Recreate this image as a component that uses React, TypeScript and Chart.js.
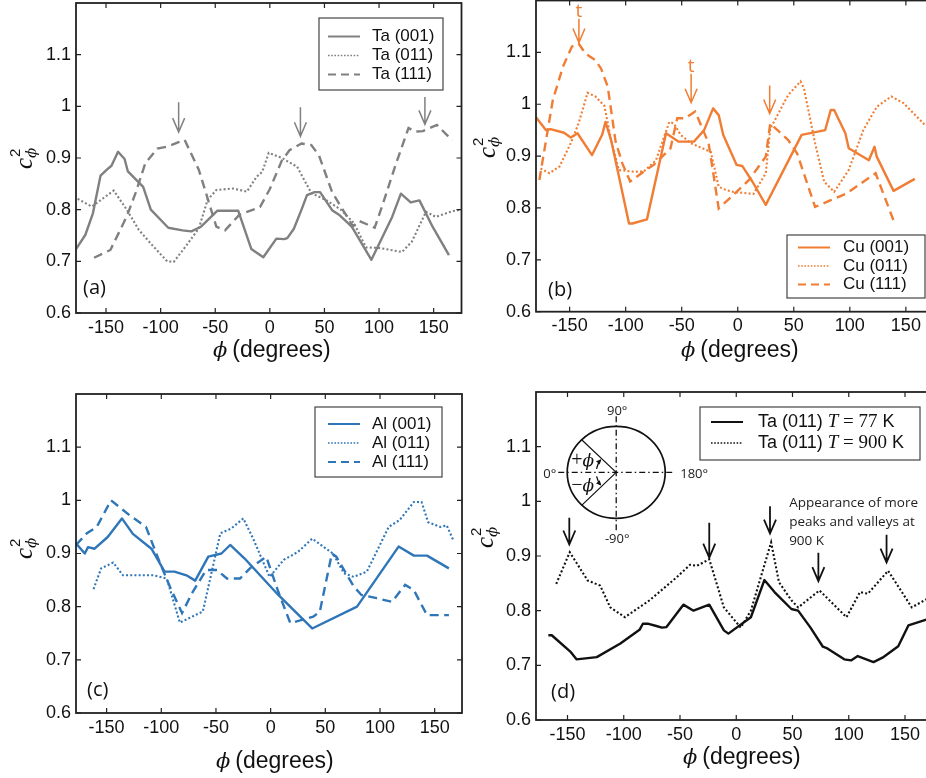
import React, { useEffect, useRef } from 'react';
import { Chart, registerables } from 'chart.js';

Chart.register(...registerables);

type P = [number, number];

const xTickValues = [-150, -100, -50, 0, 50, 100, 150];
const yTickValues = [0.6, 0.7, 0.8, 0.9, 1.0, 1.1];

// ---------- (a) Ta ----------
const ta001: P[] = [
  [-178, 0.722], [-169, 0.751], [-162, 0.793], [-155, 0.866], [-149, 0.878], [-145, 0.885], [-139, 0.912],
  [-133, 0.898], [-130, 0.874], [-116, 0.844], [-109, 0.8], [-93, 0.765], [-80, 0.76], [-72, 0.758],
  [-63, 0.767], [-48, 0.798], [-29, 0.798], [-17, 0.724], [-6, 0.708], [6, 0.744], [13, 0.743],
  [16, 0.745], [22, 0.763], [29, 0.8], [34, 0.828], [41, 0.834], [46, 0.834], [57, 0.799], [64, 0.789],
  [75, 0.767], [93, 0.703], [112, 0.786], [120, 0.831], [129, 0.814], [137, 0.818], [149, 0.767], [164, 0.712],
];
const ta011: P[] = [
  [-176, 0.821], [-163, 0.806], [-143, 0.837], [-131, 0.8], [-120, 0.761], [-108, 0.732], [-94, 0.7],
  [-88, 0.699], [-77, 0.729], [-65, 0.764], [-57, 0.819], [-49, 0.838], [-34, 0.841], [-21, 0.835],
  [-12, 0.864], [-7, 0.873], [-1, 0.91], [11, 0.9], [25, 0.883], [38, 0.832], [52, 0.818], [65, 0.8],
  [77, 0.774], [88, 0.727], [100, 0.726], [121, 0.718], [130, 0.738], [143, 0.796], [152, 0.786],
  [167, 0.797], [175, 0.8],
];
const ta111: P[] = [
  [-161, 0.707], [-146, 0.722], [-131, 0.787], [-123, 0.832], [-114, 0.89], [-103, 0.918], [-94, 0.922],
  [-83, 0.931], [-78, 0.935], [-65, 0.877], [-49, 0.767], [-41, 0.76], [-28, 0.79], [-9, 0.805], [0, 0.84],
  [11, 0.895], [18, 0.915], [29, 0.928], [38, 0.925], [45, 0.905], [57, 0.834], [76, 0.768], [82, 0.778],
  [96, 0.765], [103, 0.808], [115, 0.886], [127, 0.958], [133, 0.951], [140, 0.952], [153, 0.964], [167, 0.934],
];

// ---------- (b) Cu ----------
const cu001: P[] = [
  [-180, 0.975], [-171, 0.95], [-167, 0.952], [-155, 0.945], [-149, 0.936], [-143, 0.944], [-130, 0.902],
  [-121, 0.941], [-118, 0.966], [-113, 0.931], [-97, 0.77], [-94, 0.77], [-81, 0.778], [-64, 0.944],
  [-53, 0.928], [-39, 0.928], [-30, 0.95], [-22, 0.992], [-17, 0.979], [-13, 0.941], [-1, 0.883], [4, 0.881],
  [13, 0.851], [25, 0.806], [57, 0.941], [78, 0.95], [83, 0.989], [86, 0.989], [96, 0.944], [99, 0.915],
  [117, 0.892], [122, 0.918], [124, 0.899], [139, 0.833], [158, 0.856],
];
const cu011: P[] = [
  [-176, 0.876], [-168, 0.867], [-159, 0.88], [-149, 0.925], [-142, 0.963], [-134, 1.022], [-127, 1.015],
  [-119, 0.997], [-113, 0.931], [-106, 0.873], [-93, 0.87], [-84, 0.87], [-73, 0.892], [-61, 0.966],
  [-57, 0.963], [-51, 0.941], [-42, 0.925], [-24, 0.908], [-17, 0.841], [-11, 0.835], [-4, 0.831], [14, 0.827],
  [25, 0.867], [29, 0.953], [34, 0.973], [45, 1.018], [56, 1.044], [59, 1.031], [69, 0.925], [77, 0.851],
  [86, 0.831], [99, 0.873], [112, 0.95], [124, 0.995], [137, 1.015], [148, 1.002], [167, 0.96],
];
const cu111: P[] = [
  [-177, 0.854], [-165, 1.008], [-156, 1.072], [-148, 1.111], [-142, 1.117], [-136, 1.098], [-127, 1.085],
  [-122, 1.069], [-116, 1.034], [-109, 0.928], [-103, 0.886], [-96, 0.851], [-84, 0.87], [-75, 0.883],
  [-60, 0.915], [-54, 0.973], [-47, 0.973], [-38, 0.986], [-26, 0.925], [-17, 0.799], [-4, 0.825], [10, 0.854],
  [25, 0.899], [29, 0.963], [40, 0.941], [45, 0.931], [53, 0.905], [69, 0.802], [83, 0.815], [97, 0.828],
  [123, 0.867], [140, 0.77],
];

// ---------- (c) Al ----------
const al001: P[] = [
  [-178, 0.919], [-170, 0.9], [-167, 0.912], [-161, 0.909], [-149, 0.931], [-136, 0.966], [-126, 0.937],
  [-109, 0.909], [-97, 0.866], [-88, 0.866], [-77, 0.859], [-69, 0.849], [-57, 0.894], [-45, 0.9],
  [-37, 0.916], [-24, 0.891], [7, 0.822], [38, 0.759], [79, 0.8], [117, 0.913], [131, 0.896], [143, 0.896],
  [163, 0.872],
];
const al011: P[] = [
  [-162, 0.833], [-155, 0.872], [-144, 0.883], [-135, 0.859], [-123, 0.859], [-107, 0.859], [-95, 0.853],
  [-83, 0.77], [-62, 0.791], [-46, 0.938], [-36, 0.947], [-25, 0.966], [-16, 0.928], [-1, 0.856], [12, 0.888],
  [25, 0.903], [38, 0.928], [48, 0.913], [57, 0.9], [67, 0.863], [76, 0.856], [88, 0.866], [108, 0.95],
  [118, 0.963], [131, 0.997], [138, 0.997], [144, 0.959], [155, 0.95], [161, 0.953], [167, 0.925],
];
const al111: P[] = [
  [-178, 0.916], [-168, 0.938], [-159, 0.95], [-146, 1.0], [-129, 0.972], [-114, 0.95], [-101, 0.881],
  [-92, 0.837], [-81, 0.788], [-72, 0.825], [-59, 0.869], [-49, 0.869], [-40, 0.853], [-28, 0.853],
  [-19, 0.872], [-4, 0.894], [7, 0.828], [18, 0.769], [39, 0.781], [45, 0.791], [56, 0.9], [60, 0.894],
  [76, 0.838], [83, 0.822], [97, 0.816], [111, 0.809], [123, 0.841], [131, 0.831], [143, 0.784], [163, 0.784],
];

// ---------- (d) Ta (011) at two temperatures ----------
const ta77: P[] = [
  [-167, 0.755], [-164, 0.755], [-147, 0.724], [-142, 0.711], [-124, 0.715], [-103, 0.74], [-86, 0.765],
  [-83, 0.776], [-78, 0.776], [-71, 0.772], [-66, 0.769], [-62, 0.77], [-47, 0.811], [-38, 0.8], [-24, 0.811],
  [-11, 0.764], [-7, 0.758], [13, 0.788], [25, 0.856], [34, 0.834], [49, 0.803], [55, 0.8], [66, 0.769],
  [77, 0.734], [81, 0.731], [96, 0.711], [102, 0.709], [108, 0.717], [122, 0.706], [130, 0.714], [144, 0.735],
  [153, 0.773], [171, 0.785],
];
const ta900: P[] = [
  [-160, 0.849], [-148, 0.907], [-132, 0.855], [-121, 0.846], [-112, 0.806], [-99, 0.788], [-77, 0.819],
  [-53, 0.861], [-41, 0.884], [-35, 0.882], [-24, 0.894], [-11, 0.806], [4, 0.769], [13, 0.8], [31, 0.925],
  [38, 0.852], [49, 0.819], [55, 0.806], [74, 0.837], [98, 0.788], [110, 0.834], [117, 0.831], [135, 0.873],
  [156, 0.806], [170, 0.822],
];

const noteLines = ['Appearance of more', 'peaks and valleys at', '900 K'];

const GRAY = '#808080';
const ORANGE = '#f07d33';
const BLUE = '#2f76b8';
const BLACK = '#111111';

const SANS = '"Liberation Sans", Arial, Helvetica, sans-serif';
const SERIF = '"Liberation Serif", "Times New Roman", serif';
const PHI_FONT = '"DejaVu Serif", "Liberation Serif", serif';

type Seg = { t: string; f: string };
type Style = 'solid' | 'dotted' | 'dashed';
interface SeriesDef { label: string; rich: Seg[]; data: P[]; style: Style }
interface ArrowDef { x: number; top: number; tip: number; text?: string }
interface PanelDef {
  key: string;
  box: [number, number, number, number];
  area: [number, number, number, number];
  xRange: [number, number];
  color: string;
  series: SeriesDef[];
  legend: { x: number; y: number; w: number; h: number; l0: number; l1: number; tx: number; rows: number[] };
  tag: { text: string; x: number; y: number };
  xTitle: [number, number];
  yTitle: [number, number];
  arrows: ArrowDef[];
  arrowWidth: number;
  note?: { x: number; ys: number[] };
  inset?: { x: number; y: number };
}

const plain = (t: string): Seg[] => [{ t, f: `17px ${SANS}` }];

const panels: PanelDef[] = [
  {
    key: 'a', box: [0, 0, 463, 385], area: [76, 3, 461.5, 313], xRange: [-177.5, 175.5], color: GRAY,
    series: [
      { label: 'Ta (001)', rich: plain('Ta (001)'), data: ta001, style: 'solid' },
      { label: 'Ta (011)', rich: plain('Ta (011)'), data: ta011, style: 'dotted' },
      { label: 'Ta (111)', rich: plain('Ta (111)'), data: ta111, style: 'dashed' },
    ],
    legend: { x: 319, y: 18, w: 124, h: 72, l0: 328, l1: 360, tx: 372, rows: [36.5, 55.5, 74.5] },
    tag: { text: '(a)', x: 83, y: 288 },
    xTitle: [213, 357], yTitle: [32, 169],
    arrows: [
      { x: -83.5, top: 1.008, tip: 0.95 },
      { x: 28, top: 0.998, tip: 0.942 },
      { x: 142, top: 1.018, tip: 0.965 },
    ],
    arrowWidth: 1.5,
  },
  {
    key: 'b', box: [463, 0, 490, 385], area: [536, 0.5, 939.5, 311.7], xRange: [-180, 180], color: ORANGE,
    series: [
      { label: 'Cu (001)', rich: plain('Cu (001)'), data: cu001, style: 'solid' },
      { label: 'Cu (011)', rich: plain('Cu (011)'), data: cu011, style: 'dotted' },
      { label: 'Cu (111)', rich: plain('Cu (111)'), data: cu111, style: 'dashed' },
    ],
    legend: { x: 787, y: 235, w: 138, h: 63, l0: 798, l1: 830, tx: 843, rows: [247.5, 266, 284.5] },
    tag: { text: '(b)', x: 548, y: 290 },
    xTitle: [681, 357], yTitle: [495, 158],
    arrows: [
      { x: -141.7, top: 1.165, tip: 1.119, text: 't' },
      { x: -41.6, top: 1.059, tip: 1.003, text: 't' },
      { x: 28.5, top: 1.036, tip: 0.982 },
    ],
    arrowWidth: 1.5,
  },
  {
    key: 'c', box: [0, 385, 463, 393], area: [76, 394, 462, 713], xRange: [-178, 175], color: BLUE,
    series: [
      { label: 'Al (001)', rich: plain('Al (001)'), data: al001, style: 'solid' },
      { label: 'Al (011)', rich: plain('Al (011)'), data: al011, style: 'dotted' },
      { label: 'Al (111)', rich: plain('Al (111)'), data: al111, style: 'dashed' },
    ],
    legend: { x: 315, y: 407, w: 127, h: 70, l0: 328, l1: 360, tx: 372, rows: [424, 443, 462] },
    tag: { text: '(c)', x: 87, y: 690 },
    xTitle: [216, 768], yTitle: [32, 559],
    arrows: [],
    arrowWidth: 1.5,
  },
  {
    key: 'd', box: [463, 385, 490, 393], area: [536, 392, 938.75, 720], xRange: [-178, 180], color: BLACK,
    series: [
      {
        label: 'Ta (011) T = 77 K', data: ta77, style: 'solid',
        rich: [
          { t: 'Ta (011) ', f: `18px ${SANS}` }, { t: 'T', f: `italic 19px ${SERIF}` },
          { t: ' = 77', f: `19px ${SERIF}` }, { t: ' K', f: `18px ${SANS}` },
        ],
      },
      {
        label: 'Ta (011) T = 900 K', data: ta900, style: 'dotted',
        rich: [
          { t: 'Ta (011) ', f: `18px ${SANS}` }, { t: 'T', f: `italic 19px ${SERIF}` },
          { t: ' = 900', f: `19px ${SERIF}` }, { t: ' K', f: `18px ${SANS}` },
        ],
      },
    ],
    legend: { x: 700, y: 407, w: 220, h: 53, l0: 711, l1: 743, tx: 758, rows: [422, 443] },
    tag: { text: '(d)', x: 551, y: 692 },
    xTitle: [683, 764], yTitle: [493, 548],
    arrows: [
      { x: -148.4, top: 0.97, tip: 0.921 },
      { x: -24, top: 0.961, tip: 0.897 },
      { x: 30, top: 0.991, tip: 0.941 },
      { x: 73, top: 0.906, tip: 0.854 },
      { x: 133.6, top: 0.939, tip: 0.888 },
    ],
    arrowWidth: 1.8,
    note: { x: 47, ys: [0.997, 0.962, 0.927] },
    inset: { x: -106.7, y: 1.053 },
  },
];

const dashFor = (s: Style): number[] => (s === 'solid' ? [] : s === 'dotted' ? [2, 2.2] : [9, 5.5]);
const widthFor = (s: Style): number => (s === 'dotted' ? 2.1 : 2.4);

function drawRich(ctx: CanvasRenderingContext2D, segs: Seg[], x: number, y: number) {
  let cx = x;
  for (const s of segs) {
    ctx.font = s.f;
    ctx.fillText(s.t, cx, y);
    cx += ctx.measureText(s.t).width;
  }
}

function headAt(ctx: CanvasRenderingContext2D, x: number, y: number, dx: number, dy: number, size: number) {
  const len = Math.hypot(dx, dy) || 1;
  const ux = dx / len, uy = dy / len;
  const px = -uy, py = ux;
  ctx.beginPath();
  ctx.moveTo(x, y);
  ctx.lineTo(x - ux * size + px * size * 0.5, y - uy * size + py * size * 0.5);
  ctx.lineTo(x - ux * size - px * size * 0.5, y - uy * size - py * size * 0.5);
  ctx.closePath();
  ctx.fill();
}

function makeDecor(p: PanelDef) {
  return {
    id: 'decor_' + p.key,
    afterDraw(chart: any) {
      const ctx: CanvasRenderingContext2D = chart.ctx;
      const xs = chart.scales.x;
      const ys = chart.scales.y;
      const { left, top, right, bottom } = chart.chartArea;
      const ox = p.box[0], oy = p.box[1];
      ctx.save();

      // inward tick marks on all four sides
      ctx.strokeStyle = '#222';
      ctx.lineWidth = 1.2;
      ctx.setLineDash([]);
      ctx.beginPath();
      for (const v of xTickValues) {
        const px = xs.getPixelForValue(v);
        ctx.moveTo(px, bottom); ctx.lineTo(px, bottom - 5);
        ctx.moveTo(px, top); ctx.lineTo(px, top + 5);
      }
      for (const v of yTickValues) {
        const py = ys.getPixelForValue(v);
        ctx.moveTo(left, py); ctx.lineTo(left + 5, py);
        ctx.moveTo(right, py); ctx.lineTo(right - 5, py);
      }
      ctx.stroke();

      // box
      ctx.lineWidth = 1.8;
      ctx.strokeStyle = '#222';
      ctx.strokeRect(left, top, right - left, bottom - top);

      // arrows
      for (const a of p.arrows) {
        const px = xs.getPixelForValue(a.x);
        const y0 = ys.getPixelForValue(a.top);
        const y1 = ys.getPixelForValue(a.tip);
        ctx.strokeStyle = p.color;
        ctx.lineWidth = p.arrowWidth;
        ctx.beginPath();
        ctx.moveTo(px, y0); ctx.lineTo(px, y1);
        ctx.moveTo(px - 6, y1 - 14); ctx.lineTo(px, y1); ctx.lineTo(px + 6, y1 - 14);
        ctx.stroke();
        if (a.text) {
          ctx.fillStyle = p.color;
          ctx.font = '19px "Open Sans", sans-serif';
          ctx.textAlign = 'center';
          ctx.textBaseline = 'alphabetic';
          ctx.fillText(a.text, px, y0 - 2);
        }
      }

      // note text (d)
      if (p.note) {
        ctx.fillStyle = '#222';
        ctx.font = '13.5px "Open Sans", sans-serif';
        ctx.textAlign = 'left';
        ctx.textBaseline = 'middle';
        const nx = xs.getPixelForValue(p.note.x);
        p.note.ys.forEach((v, i) => ctx.fillText(noteLines[i], nx, ys.getPixelForValue(v)));
      }

      // inset circle (d)
      if (p.inset) {
        const cx = xs.getPixelForValue(p.inset.x);
        const cy = ys.getPixelForValue(p.inset.y);
        ctx.strokeStyle = '#111';
        ctx.lineWidth = 1.7;
        ctx.beginPath();
        ctx.ellipse(cx, cy, 49, 46, 0, 0, Math.PI * 2);
        ctx.stroke();
        ctx.lineWidth = 1.3;
        ctx.setLineDash([6, 3, 1.5, 3]);
        ctx.beginPath();
        ctx.moveTo(cx, cy - 56); ctx.lineTo(cx, cy + 58);
        ctx.moveTo(cx - 58, cy); ctx.lineTo(cx + 59, cy);
        ctx.stroke();
        ctx.setLineDash([]);
        ctx.lineWidth = 1.2;
        ctx.beginPath();
        ctx.moveTo(cx, cy); ctx.lineTo(cx - 34.3, cy - 32.3);
        ctx.moveTo(cx, cy); ctx.lineTo(cx - 34.3, cy + 32.7);
        ctx.stroke();
        // angle arrows
        ctx.fillStyle = '#111';
        ctx.lineWidth = 1.3;
        const r = 20;
        ctx.beginPath();
        ctx.arc(cx, cy, r, Math.PI + 0.17, Math.PI + 0.68, false);
        ctx.stroke();
        let a = Math.PI + 0.72;
        headAt(ctx, cx + r * Math.cos(a), cy + r * Math.sin(a), -Math.sin(a), Math.cos(a), 5);
        ctx.beginPath();
        ctx.arc(cx, cy, r, Math.PI - 0.2, Math.PI - 0.68, true);
        ctx.stroke();
        a = Math.PI - 0.72;
        headAt(ctx, cx + r * Math.cos(a), cy + r * Math.sin(a), Math.sin(a), -Math.cos(a), 5);
        // labels
        ctx.fillStyle = '#222';
        ctx.font = '13px "Open Sans", sans-serif';
        ctx.textBaseline = 'alphabetic';
        ctx.textAlign = 'center';
        ctx.fillText('90°', cx + 1, cy - 57);
        ctx.fillText('-90°', cx + 1, cy + 71);
        ctx.textBaseline = 'middle';
        ctx.textAlign = 'right';
        ctx.fillText('0°', cx - 60, cy + 2);
        ctx.textAlign = 'left';
        ctx.fillText('180°', cx + 64, cy + 2);
        ctx.textBaseline = 'alphabetic';
        ctx.fillStyle = '#111';
        drawRich(ctx, [{ t: '+', f: `20px ${SERIF}` }, { t: 'ϕ', f: `italic 17px ${PHI_FONT}` }], cx - 45, cy - 6);
        drawRich(ctx, [{ t: '−', f: `20px ${SERIF}` }, { t: 'ϕ', f: `italic 17px ${PHI_FONT}` }], cx - 45, cy + 19);
      }

      // legend
      const L = p.legend;
      const lx = L.x - ox, ly = L.y - oy;
      ctx.fillStyle = '#ffffff';
      ctx.fillRect(lx, ly, L.w, L.h);
      ctx.strokeStyle = '#444';
      ctx.lineWidth = 1.2;
      ctx.setLineDash([]);
      ctx.strokeRect(lx, ly, L.w, L.h);
      p.series.forEach((s, i) => {
        const ry = L.rows[i] - oy;
        ctx.strokeStyle = p.color;
        ctx.lineWidth = s.style === 'dotted' ? 1.6 : 2;
        ctx.setLineDash(s.style === 'dotted' ? [1.6, 1.6] : s.style === 'dashed' ? [8, 5] : []);
        ctx.beginPath();
        ctx.moveTo(L.l0 - ox, ry); ctx.lineTo(L.l1 - ox, ry);
        ctx.stroke();
        ctx.setLineDash([]);
        ctx.fillStyle = '#111';
        ctx.textAlign = 'left';
        ctx.textBaseline = 'middle';
        drawRich(ctx, s.rich, L.tx - ox, ry);
      });

      // panel tag
      ctx.fillStyle = '#111';
      ctx.font = '20px "Open Sans", sans-serif';
      ctx.textAlign = 'left';
      ctx.textBaseline = 'middle';
      ctx.fillText(p.tag.text, p.tag.x - ox, p.tag.y - oy);

      // x title
      ctx.textBaseline = 'alphabetic';
      ctx.textAlign = 'left';
      const tx = p.xTitle[0] - ox, ty = p.xTitle[1] - oy;
      ctx.font = `italic 21px ${PHI_FONT}`;
      ctx.fillText('ϕ', tx, ty);
      const pw = ctx.measureText('ϕ').width;
      ctx.font = `23px ${SANS}`;
      ctx.fillText('(degrees)', tx + pw + 5, ty);

      // y title  c_phi^2 (rotated)
      ctx.save();
      ctx.translate(p.yTitle[0] - ox, p.yTitle[1] - oy);
      ctx.rotate(-Math.PI / 2);
      ctx.font = `italic 25px ${SERIF}`;
      ctx.fillText('c', 0, 0);
      const cw = ctx.measureText('c').width;
      ctx.font = `15px ${SANS}`;
      ctx.fillText('2', cw + 1, -12);
      ctx.font = `italic 15px ${PHI_FONT}`;
      ctx.fillText('ϕ', cw, 4);
      ctx.restore();

      ctx.restore();
    },
  };
}

function PanelChart({ p }: { p: PanelDef }) {
  const ref = useRef<HTMLCanvasElement | null>(null);
  useEffect(() => {
    const canvas = ref.current;
    if (!canvas) return;
    const [bl, bt, bw, bh] = p.box;
    const [al, at, ar, ab] = p.area;
    const tickFont = { family: SANS, size: 18 };
    const chart = new Chart(canvas, {
      type: 'line',
      data: {
        datasets: p.series.map((s) => ({
          label: s.label,
          data: s.data.map(([x, y]) => ({ x, y })),
          borderColor: p.color,
          backgroundColor: p.color,
          borderWidth: widthFor(s.style),
          borderDash: dashFor(s.style),
          borderCapStyle: 'butt',
          borderJoinStyle: s.style === 'solid' ? 'round' : 'miter',
          pointRadius: 0,
          pointHoverRadius: 0,
          tension: 0,
          fill: false,
        })),
      } as any,
      options: {
        responsive: false,
        animation: false,
        devicePixelRatio: 1,
        events: [],
        layout: {
          autoPadding: false,
          padding: { left: 0, top: at - bt, right: bl + bw - ar, bottom: 0 },
        },
        plugins: {
          legend: { display: false },
          tooltip: { enabled: false },
          title: { display: false },
        },
        scales: {
          x: {
            type: 'linear',
            min: p.xRange[0],
            max: p.xRange[1],
            afterBuildTicks: (s: any) => { s.ticks = xTickValues.map((v) => ({ value: v })); },
            afterFit: (s: any) => { s.height = bt + bh - ab; s.paddingLeft = 0; s.paddingRight = 0; },
            ticks: {
              callback: (v: any) => String(v),
              font: tickFont,
              color: '#111',
              padding: 4,
              maxRotation: 0,
              autoSkip: false,
            },
            grid: { display: false, drawTicks: false },
            border: { display: false },
          },
          y: {
            type: 'linear',
            min: 0.6,
            max: 1.2,
            afterBuildTicks: (s: any) => { s.ticks = yTickValues.map((v) => ({ value: v })); },
            afterFit: (s: any) => { s.width = al - bl; s.paddingTop = 0; s.paddingBottom = 0; },
            ticks: {
              callback: (v: any) => (Math.abs(v - 1) < 1e-9 ? '1' : Number(v).toFixed(1)),
              font: tickFont,
              color: '#111',
              padding: 5,
              autoSkip: false,
            },
            grid: { display: false, drawTicks: false },
            border: { display: false },
          },
        },
      } as any,
      plugins: [makeDecor(p)],
    });
    return () => chart.destroy();
  }, [p]);
  const [bl, bt, bw, bh] = p.box;
  return (
    <canvas
      ref={ref}
      width={bw}
      height={bh}
      style={{ position: 'absolute', left: bl, top: bt, width: bw, height: bh, display: 'block' }}
    />
  );
}

export default function App() {
  return (
    <div
      style={{
        position: 'absolute', left: 0, top: 0, width: 926, height: 778,
        overflow: 'hidden', background: '#ffffff',
      }}
    >
      {panels.map((p) => (
        <PanelChart key={p.key} p={p} />
      ))}
    </div>
  );
}
